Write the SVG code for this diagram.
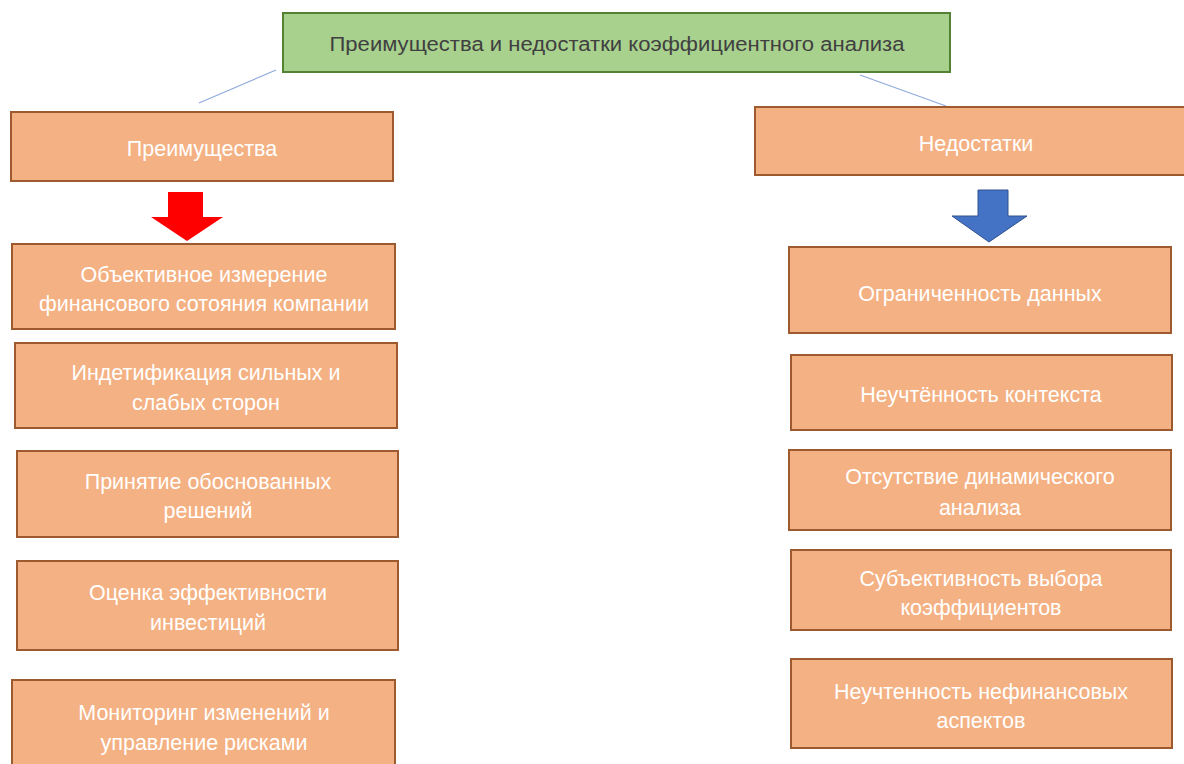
<svg xmlns="http://www.w3.org/2000/svg" width="1184" height="764" viewBox="0 0 1184 764">
<style>
.box{fill:#f4b183;stroke:#9c5a2e;stroke-width:2}
.t{font-family:"Liberation Sans",Arial,sans-serif;font-size:21.5px;fill:#ffffff;text-anchor:middle}
.title{font-family:"Liberation Sans",Arial,sans-serif;font-size:20px;fill:#404040;text-anchor:middle}
.ln{stroke:#8faadc;stroke-width:1.2;fill:none}
</style>
<rect width="1184" height="764" fill="#ffffff"/>
<g id="connectors">
<line class="ln" x1="276" y1="70" x2="199" y2="103"/>
<line class="ln" x1="860" y1="75" x2="946" y2="106"/>
<polygon points="168,192 203,192 203,217 223,217 187,241 151,217 168,217" fill="#ff0000"/>
<polygon points="978,190 1008,190 1008,216 1027,216 989,242 952,216 978,216" fill="#4472c4" stroke="#2f528f" stroke-width="1"/>
</g>
<g id="title">
<rect x="283" y="13" width="667" height="59" fill="#a9d18e" stroke="#548235" stroke-width="2"/>
<text class="title" x="617" y="51" textLength="575" lengthAdjust="spacingAndGlyphs">Преимущества и недостатки коэффициентного анализа</text>
</g>
<g id="adv">
<rect class="box" x="11" y="112" width="382" height="69"/>
<text class="t" x="202" y="156">Преимущества</text>
</g>
<g id="adv1">
<rect class="box" x="12" y="244" width="383" height="85"/>
<text class="t" x="204" y="282">Объективное измерение</text>
<text class="t" x="204" y="311">финансового сотояния компании</text>
</g>
<g id="adv2">
<rect class="box" x="15" y="343" width="382" height="85"/>
<text class="t" x="206" y="380">Индетификация сильных и</text>
<text class="t" x="206" y="410">слабых сторон</text>
</g>
<g id="adv3">
<rect class="box" x="17" y="451" width="381" height="86"/>
<text class="t" x="208" y="489">Принятие обоснованных</text>
<text class="t" x="208" y="518">решений</text>
</g>
<g id="adv4">
<rect class="box" x="17" y="561" width="381" height="89"/>
<text class="t" x="208" y="600">Оценка эффективности</text>
<text class="t" x="208" y="630">инвестиций</text>
</g>
<g id="adv5">
<rect class="box" x="12" y="680" width="383" height="90"/>
<text class="t" x="204" y="720">Мониторинг изменений и</text>
<text class="t" x="204" y="750">управление рисками</text>
</g>
<g id="dis">
<rect class="box" x="755" y="107" width="435" height="68"/>
<text class="t" x="976" y="151">Недостатки</text>
</g>
<g id="dis1">
<rect class="box" x="789" y="247" width="382" height="86"/>
<text class="t" x="980" y="301">Ограниченность данных</text>
</g>
<g id="dis2">
<rect class="box" x="791" y="355" width="381" height="75"/>
<text class="t" x="981" y="402">Неучтённость контекста</text>
</g>
<g id="dis3">
<rect class="box" x="789" y="450" width="382" height="80"/>
<text class="t" x="980" y="484">Отсутствие динамического</text>
<text class="t" x="980" y="515">анализа</text>
</g>
<g id="dis4">
<rect class="box" x="791" y="550" width="380" height="80"/>
<text class="t" x="981" y="586">Субъективность выбора</text>
<text class="t" x="981" y="615">коэффициентов</text>
</g>
<g id="dis5">
<rect class="box" x="791" y="659" width="381" height="89"/>
<text class="t" x="981" y="699">Неучтенность нефинансовых</text>
<text class="t" x="981" y="728">аспектов</text>
</g>
</svg>
